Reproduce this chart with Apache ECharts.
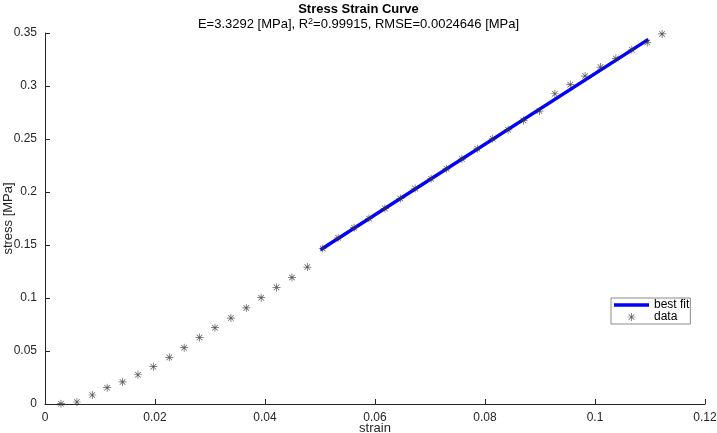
<!DOCTYPE html>
<html>
<head>
<meta charset="utf-8">
<script src="https://cdn.jsdelivr.net/npm/echarts@6/dist/echarts.min.js"></script>
<style>
  html, body { margin: 0; padding: 0; background: #fff; }
  #chart { width: 717px; height: 433px; }
</style>
</head>
<body>
<div id="chart"></div>
<script>
// measured data points
const strain = [
  0.0029, 0.0058, 0.0086, 0.0113, 0.0141, 0.0169, 0.0197, 0.0226, 0.0253, 0.0281,
  0.0309, 0.0338, 0.0366, 0.0393, 0.0421, 0.0449, 0.0477,
  0.0505, 0.0533, 0.0562, 0.0589, 0.0618, 0.0646, 0.0673, 0.0702, 0.0730, 0.0758,
  0.0786, 0.0814, 0.0842, 0.0870, 0.0899, 0.0927, 0.0955, 0.0982, 0.1010, 0.1038,
  0.1067, 0.1095, 0.1122
];
const stress = [
  0.0003, 0.0019, 0.0085, 0.0154, 0.0208, 0.0276, 0.0352, 0.0440, 0.0531, 0.0628,
  0.0720, 0.0811, 0.0906, 0.1003, 0.1100, 0.1194, 0.1292,
  0.1467, 0.1568, 0.1663, 0.1750, 0.1845, 0.1939, 0.2033, 0.2125, 0.2219, 0.2311,
  0.2408, 0.2502, 0.2587, 0.2675, 0.2764, 0.2927, 0.3012, 0.3094, 0.3179, 0.3260,
  0.3342, 0.3411, 0.3491
];
// fitted line end points
const fitStrain = [0.0501, 0.1097];
const fitStress = [0.1456, 0.3440];

const font = 'Liberation Sans, Arial, sans-serif';
const axisColor = '#262626';
const asterisk = 'path://M4.55,0L5.45,0L5.45,10L4.55,10Z M0,4.55L10,4.55L10,5.45L0,5.45Z M1.2,1.84L1.84,1.2L8.8,8.16L8.16,8.8Z M8.16,1.2L8.8,1.84L1.84,8.8L1.2,8.16Z';

const chart = echarts.init(document.getElementById('chart'));

const axisCommon = {
  axisLine: { show: true, lineStyle: { color: axisColor, width: 1 } },
  axisTick: { show: true, inside: true, length: 5, lineStyle: { color: axisColor } },
  axisLabel: { color: axisColor, fontSize: 12, fontFamily: font },
  splitLine: { show: false },
  nameMoveOverlap: false,
  nameTextStyle: { color: axisColor, fontSize: 13, fontFamily: font }
};

chart.setOption({
  animation: false,
  backgroundColor: '#fff',
  title: {
    left: 'center',
    top: -2,
    itemGap: 1,
    text: 'Stress Strain Curve',
    textStyle: { fontSize: 13, fontWeight: 'bold', color: '#000', fontFamily: font },
    subtext: 'E=3.3292 [MPa], R{sup|2}=0.99915, RMSE=0.0024646 [MPa]',
    subtextStyle: {
      fontSize: 13, color: '#000', fontFamily: font,
      rich: { sup: { fontSize: 9, verticalAlign: 'top', padding: [0, 0, 6, 0], color: '#000', fontFamily: font } }
    }
  },
  grid: { left: 45, right: 12, top: 33, bottom: 29, outerBoundsMode: 'none', containLabel: false },
  legend: {
    orient: 'vertical',
    left: 611,
    top: 298,
    padding: [1, 1, 1, 3],
    itemGap: 0,
    itemWidth: 35,
    itemHeight: 8,
    borderColor: '#8c8c8c',
    borderWidth: 1,
    backgroundColor: '#fff',
    textStyle: { fontSize: 12, lineHeight: 12, color: '#000', fontFamily: font },
    data: [
      { name: 'best fit', icon: 'path://M0,0L35,0L35,3.5L0,3.5Z' },
      { name: 'data', icon: asterisk }
    ]
  },
  xAxis: Object.assign({}, axisCommon, {
    type: 'value',
    min: 0, max: 0.12, interval: 0.02,
    name: 'strain', nameLocation: 'middle', nameGap: 18
  }),
  yAxis: Object.assign({}, axisCommon, {
    type: 'value',
    min: 0, max: 0.35, interval: 0.05,
    name: 'stress [MPa]', nameLocation: 'middle', nameGap: 30
  }),
  series: [
    {
      name: 'best fit',
      type: 'line',
      data: fitStrain.map((x, i) => [x, fitStress[i]]),
      showSymbol: false,
      lineStyle: { color: '#0000ff', width: 3.5 },
      itemStyle: { color: '#0000ff' },
      z: 2
    },
    {
      name: 'data',
      type: 'scatter',
      data: strain.map((x, i) => [x, stress[i]]),
      symbol: asterisk,
      symbolSize: 8,
      itemStyle: { color: '#333' },
      z: 3
    }
  ]
});
</script>
</body>
</html>
